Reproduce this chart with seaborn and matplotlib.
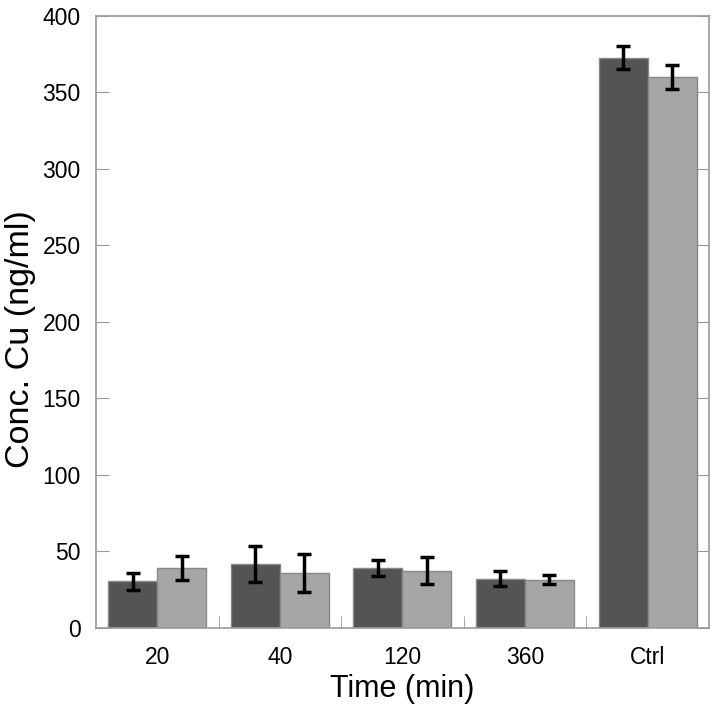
import numpy as np
import pandas as pd
import seaborn as sns
import matplotlib.pyplot as plt
from matplotlib.ticker import FixedLocator

# data
times = ["20", "40", "120", "360", "Ctrl"]
series = ["A", "B"]
conc_a = [30.3, 41.6, 38.8, 32.2, 372.7]
conc_b = [38.8, 35.7, 37.3, 31.4, 359.9]
err_a = [5.4, 11.9, 5.2, 4.6, 7.6]
err_b = [7.8, 12.2, 8.8, 3.0, 7.6]

df = pd.DataFrame({
    "time": times * 2,
    "series": [series[0]] * len(times) + [series[1]] * len(times),
    "conc": conc_a + conc_b,
    "err": err_a + err_b,
})

sns.set_style("white")
plt.rcParams["font.family"] = ["Liberation Sans", "DejaVu Sans"]
plt.rcParams["text.color"] = "black"
plt.rcParams["axes.labelcolor"] = "black"
plt.rcParams["xtick.labelcolor"] = "black"
plt.rcParams["ytick.labelcolor"] = "black"

fig = plt.figure(figsize=(7.16, 7.15), dpi=100)
ax = fig.add_axes([0.134, 0.122, 0.856, 0.856])

sns.barplot(data=df, x="time", y="conc", hue="series", order=times,
            hue_order=series, palette=["#545456", "#a6a6a6"], width=0.8,
            edgecolor="#888888", linewidth=1, errorbar=None, legend=False, ax=ax)

# error bars on top of each bar, in the same order as the patches
bars = [p for p in ax.patches if p.get_height() > 0]
xs = [p.get_x() + p.get_width() / 2 for p in bars]
hs = [p.get_height() for p in bars]
errs = err_a + err_b
ax.errorbar(xs, hs, yerr=errs, fmt="none", ecolor="black", elinewidth=2.5,
            capsize=5, capthick=2.5, zorder=5)

ax.set_xlim(-0.5, 4.5)
ax.set_ylim(0, 400)
ax.set_yticks(np.arange(0, 401, 50))
ax.set_xlabel("Time (min)", fontsize=22)
ax.set_ylabel("Conc. Cu (ng/ml)", fontsize=24.5)
ax.yaxis.set_label_coords(-0.098, 0.472)
ax.xaxis.set_label_coords(0.499, -0.075)
ax.tick_params(axis="both", labelsize=16.5, labelcolor="black")

for s in ax.spines.values():
    s.set_color("#999999")
    s.set_linewidth(1.2)

ax.tick_params(axis="y", direction="in", length=9, color="#999999",
               left=True, right=True, pad=11)
ax.tick_params(axis="x", which="major", length=0, pad=13)
ax.xaxis.set_minor_locator(FixedLocator([0.5, 1.5, 2.5, 3.5]))
ax.tick_params(axis="x", which="minor", direction="in", length=9,
               color="#999999", bottom=True)

fig.savefig("out.png", dpi=100)
